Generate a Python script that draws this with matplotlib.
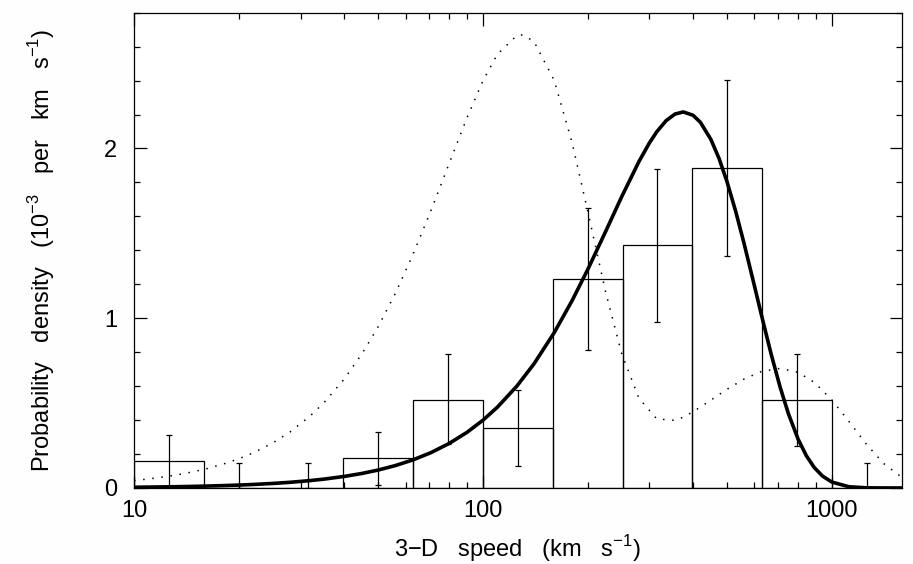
# 3-D speed distribution: histogram with error bars and two model curves
import matplotlib.pyplot as plt
from matplotlib.ticker import MultipleLocator, FixedLocator, FixedFormatter, NullFormatter

plt.rcParams['font.family'] = ['Liberation Sans', 'DejaVu Sans']
plt.rcParams['mathtext.fontset'] = 'custom'
plt.rcParams['mathtext.rm'] = 'Liberation Sans'

# histogram bins (km/s) and values (10^-3 per km/s)
bin_edges = [10, 15.85, 25.12, 39.81, 63.10, 100, 158.5, 251.2, 398.1, 631.0, 1000, 1585]
bin_centres = [12.59, 19.95, 31.62, 50.12, 79.43, 125.9, 199.5, 316.2, 501.2, 794.3, 1259]
heights = [0.16, 0, 0, 0.175, 0.52, 0.355, 1.23, 1.43, 1.885, 0.52, 0]
err_lo = [0, 0, 0, 0.02, 0.26, 0.13, 0.81, 0.975, 1.365, 0.25, 0]
err_hi = [0.315, 0.145, 0.145, 0.33, 0.79, 0.58, 1.65, 1.88, 2.405, 0.79, 0.15]

# model curves
solid_speeds = [10, 11, 12.5, 14, 16, 18, 20, 22, 25, 28, 32, 35, 40, 45, 50, 56, 63, 71,
                80, 90, 100, 110, 125, 130, 140, 160, 180, 200, 225, 250, 280, 300, 315,
                335, 355, 375, 400, 420, 450, 475, 500, 530, 560, 595, 630, 670, 710,
                750, 800, 845, 890, 940, 1000, 1120, 1260, 1410, 1585]
solid_curve = [0.0043, 0.0052, 0.0067, 0.0084, 0.011, 0.0139, 0.0171, 0.0207, 0.0267,
               0.0334, 0.0436, 0.0521, 0.0678, 0.0856, 0.1053, 0.1315, 0.1654, 0.2085,
               0.2622, 0.3278, 0.3993, 0.476, 0.5994, 0.645, 0.7309, 0.9147, 1.103,
               1.29, 1.5137, 1.7172, 1.9235, 2.0331, 2.099, 2.1642, 2.2027, 2.2153,
               2.1958, 2.154, 2.0534, 1.9407, 1.8076, 1.6299, 1.4416, 1.2203, 1.0085,
               0.7876, 0.597, 0.4395, 0.288, 0.1898, 0.1207, 0.0702, 0.0347, 0.0071,
               0.0008, 0.0001, 0.0]
dotted_speeds = [10, 11, 12.5, 14, 16, 18, 20, 22, 25, 28, 32, 35, 40, 45, 50, 56, 63, 71,
                 80, 90, 100, 110, 125, 130, 140, 160, 180, 200, 225, 250, 280, 315, 355,
                 375, 400, 450, 500, 560, 630, 710, 800, 890, 1000, 1120, 1260, 1410, 1585]
dotted_curve = [0.0439, 0.053, 0.0683, 0.0855, 0.1113, 0.1403, 0.1724, 0.2075, 0.2657,
                0.33, 0.4248, 0.5019, 0.6407, 0.7901, 0.9475, 1.1432, 1.3751, 1.6358,
                1.9117, 2.1813, 2.399, 2.5553, 2.6654, 2.6691, 2.6311, 2.4013, 2.036,
                1.6238, 1.149, 0.7888, 0.5282, 0.4066, 0.3982, 0.417, 0.4486, 0.5176,
                0.5807, 0.6415, 0.6873, 0.7044, 0.6815, 0.6223, 0.5183, 0.3909, 0.2541,
                0.1428, 0.0633]

fig = plt.figure(figsize=(9.13, 5.64), dpi=100, facecolor='#fefefe')
ax = fig.add_axes([0.1468, 0.1348, 0.8408, 0.8427])

widths = [bin_edges[i + 1] - bin_edges[i] for i in range(len(heights))]
ax.bar(bin_edges[:-1], heights, width=widths, align='edge', fill=False,
       edgecolor='black', linewidth=0.9)
mid = [(lo + hi) / 2 for lo, hi in zip(err_lo, err_hi)]
half = [(hi - lo) / 2 for lo, hi in zip(err_lo, err_hi)]
ax.errorbar(bin_centres, mid, yerr=half, fmt='none', ecolor='black',
            elinewidth=0.9, capsize=2.5, capthick=0.9)

ax.plot(dotted_speeds, dotted_curve, color='black', linewidth=1.1, linestyle=(0, (1, 5)))
ax.plot(solid_speeds, solid_curve, color='black', linewidth=2.6, zorder=5)

ax.set_xscale('log')
ax.set_xlim(10, 1585)
ax.set_ylim(0, 2.8)

ax.xaxis.set_major_locator(FixedLocator([10, 100, 1000]))
ax.xaxis.set_major_formatter(FixedFormatter(['10', '100', '1000']))
ax.xaxis.set_minor_locator(FixedLocator([m * d for d in (10, 100, 1000) for m in range(2, 10)]))
ax.xaxis.set_minor_formatter(NullFormatter())
ax.yaxis.set_major_locator(MultipleLocator(1))
ax.yaxis.set_minor_locator(MultipleLocator(0.2))

ax.tick_params(which='both', direction='in', top=True, right=True, width=0.9,
               labelsize=17)
ax.tick_params(which='major', length=9)
ax.tick_params(which='minor', length=4.5)
ax.tick_params(axis='x', pad=9)
ax.tick_params(axis='y', pad=12)
for s in ax.spines.values():
    s.set_linewidth(0.9)

ax.set_xlabel('3\u2212D   speed   (km   s$^{-1}$)', fontsize=17, labelpad=8)
ax.set_ylabel('Probability   density   (10$^{-3}$   per   km   s$^{-1}$)', fontsize=17,
              labelpad=34)

plt.savefig('out.png', dpi=100)
